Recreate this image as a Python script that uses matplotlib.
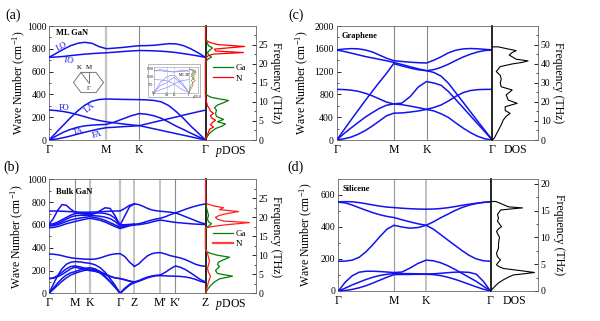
import numpy as np
import matplotlib
matplotlib.use('Agg')
import matplotlib.pyplot as plt
from matplotlib.ticker import MultipleLocator
from matplotlib.lines import Line2D
from matplotlib.patches import Rectangle

plt.rcParams['font.family'] = ['Liberation Serif', 'DejaVu Serif']
plt.rcParams['mathtext.fontset'] = 'custom'
plt.rcParams['mathtext.rm'] = 'Liberation Serif'
plt.rcParams['mathtext.it'] = 'Liberation Serif:italic'
plt.rcParams['mathtext.bf'] = 'Liberation Serif:bold'

THZ = 0.0299792458  # cm^-1 -> THz
BLUE = '#1212ee'

# hexagonal path G-M-K-G, segment lengths in units of |GM|
hex_segments = [1.0, 0.577, 1.155]
hex_divisions = [8, 4, 9]
hex_labels = ['Γ', 'M', 'K', 'Γ']

# ---- (a) monolayer GaN, cm^-1 ----
ml_lo = [725, 760, 795, 827, 848, 857, 848, 819, 801, 806, 812, 820, 827,
         828, 831, 838, 845, 843, 828, 800, 765, 725]
ml_to = [725, 728, 733, 740, 747, 753, 758, 762, 765, 770, 776, 781, 785,
         784, 782, 779, 774, 767, 758, 748, 737, 725]
ml_la = [0, 65, 130, 195, 255, 305, 340, 355, 360, 358, 356, 355, 354,
         352, 347, 334, 302, 250, 190, 122, 62, 0]
ml_fo = [263, 258, 250, 238, 222, 204, 186, 171, 160, 150, 141, 133, 126,
         112, 98, 84, 70, 56, 42, 28, 14, 0]
ml_ta = [0, 35, 68, 93, 112, 124, 130, 134, 137, 158, 185, 212, 232,
         226, 212, 190, 157, 122, 92, 60, 30, 0]
ml_fa = [0, 8, 20, 35, 52, 68, 83, 97, 108, 112, 117, 121, 126,
         141, 157, 172, 187, 202, 218, 233, 248, 262]

# partial DOS (THz, arb. units)
ml_ga_thz = [0, 1, 2, 3, 3.6, 4.2, 4.8, 5.4, 6.2, 7, 7.8, 8.5, 9.2, 9.8, 10.4,
             10.8, 11.2, 11.7, 12.2, 20.5, 21.2, 21.8, 22.4, 23, 23.6, 24.2,
             24.8, 25.4, 26, 26.5]
ml_ga_dos = [0, 2, 5, 10, 16, 20, 12, 18, 11, 10, 11, 9, 12, 18, 23,
             14, 6, 2, 0, 0, 2, 6, 3, 2, 4, 7, 3, 2, 1, 0]
ml_n_thz = [0, 1, 2, 2.8, 3.4, 4, 4.6, 5.2, 5.8, 6.4, 7, 7.6, 8.2, 9, 10, 11,
            12, 21.5, 22.2, 22.6, 23.0, 23.4, 23.9, 24.6, 25.1, 25.6, 26.0,
            26.3, 29.9]
ml_n_dos = [0, 1, 3, 4, 8, 5, 7, 10, 6, 5, 8, 5, 4, 2, 1, 0,
            0, 0, 3, 8, 38, 10, 9, 39, 12, 5, 2, 0, 0]

# inset: monolayer BN dispersion
bn_k = [0, 0.5, 1.0, 1.289, 1.577, 2.155, 2.732]
bn_bands = [
    [1370, 1380, 1330, 1320, 1300, 1340, 1370],
    [1370, 1450, 1380, 1330, 1300, 1420, 1370],
    [0, 650, 1000, 1080, 1100, 650, 0],
    [820, 800, 740, 650, 560, 750, 820],
    [0, 450, 620, 820, 960, 520, 0],
    [0, 180, 310, 420, 530, 200, 0],
]
bn_thz = [0, 8, 14, 18, 23, 27, 31, 35, 39, 42, 45]
bn_b_dos = [0, 2, 4, 3, 6, 3, 5, 2, 7, 3, 0]
bn_n_dos = [0, 1, 2, 4, 2, 5, 2, 6, 3, 6, 0]

# ---- (b) bulk GaN ----
bulk_segments_1 = [1.0, 0.577, 1.155, 0.55]   # G-M-K-G-Z
bulk_divisions_1 = [6, 3, 6, 3]
bulk_segments_2 = [1.0, 0.577, 1.155]         # Z-M'-K'-Z
bulk_divisions_2 = [6, 3, 6]
bulk_labels = ['Γ', 'M', 'K', 'Γ', 'Z', "M′", "K′", 'Z']

bk_u1 = [722, 722, 721, 720, 718, 716, 714, 712, 711, 712, 713, 715, 718, 720, 722, 722, 745, 772, 785]
bk_u2 = [605, 655, 728, 778, 772, 737, 713, 700, 692, 690, 700, 725, 750, 745, 680, 598, 680, 760, 785]
bk_u3 = [605, 610, 625, 645, 665, 685, 700, 702, 702, 700, 703, 705, 700, 688, 658, 600, 602, 604, 606]
bk_u4 = [596, 600, 612, 630, 650, 668, 680, 684, 685, 684, 680, 676, 668, 655, 630, 590, 596, 602, 605]
bk_u5 = [590, 593, 602, 615, 630, 643, 652, 660, 667, 672, 665, 655, 640, 620, 600, 578, 588, 598, 603]
bk_u6 = [575, 578, 585, 597, 610, 620, 630, 640, 650, 658, 650, 640, 625, 605, 585, 568, 580, 592, 600]
bk_l1 = [345, 343, 338, 330, 320, 312, 307, 303, 300, 298, 300, 310, 325, 338, 346, 348, 322, 272, 237]
bk_l2 = [0, 80, 155, 215, 255, 272, 278, 275, 268, 263, 250, 225, 185, 130, 70, 0, 45, 78, 100]
bk_l3 = [0, 45, 90, 130, 160, 180, 190, 205, 218, 225, 215, 190, 150, 105, 55, 0, 40, 75, 100]
bk_l4 = [0, 35, 70, 105, 135, 160, 175, 190, 202, 208, 200, 178, 142, 100, 52, 0, 38, 72, 95]
bk_l5 = [129, 135, 155, 185, 215, 235, 240, 232, 220, 211, 205, 190, 170, 150, 135, 129, 120, 108, 100]
bk_l6 = [129, 132, 145, 165, 190, 215, 230, 218, 206, 199, 192, 180, 165, 148, 135, 129, 118, 105, 95]

bk_za = [785, 778, 763, 745, 732, 724, 720, 716, 711, 705, 690, 672, 655, 637, 620, 608]
bk_zb = [605, 610, 620, 632, 643, 652, 658, 672, 690, 705, 720, 737, 752, 765, 776, 784]
bk_zc = [600, 602, 608, 615, 625, 635, 642, 636, 628, 622, 618, 614, 610, 607, 605, 603]
bk_zd = [237, 258, 295, 328, 347, 355, 357, 345, 330, 320, 310, 295, 275, 255, 242, 237]
bk_ze = [100, 112, 128, 142, 152, 158, 161, 185, 215, 240, 228, 208, 180, 150, 120, 100]
bk_zf = [93, 105, 120, 135, 146, 153, 155, 153, 151, 150, 148, 143, 135, 122, 105, 93]

bk_ga_thz = [0, 1, 2, 3, 3.8, 4.5, 5.2, 6, 7, 7.6, 8.2, 8.8, 9.5, 10, 10.5, 11,
             11.5, 17.2, 17.8, 18.3, 18.8, 19.5, 20.5, 21.5, 22.5, 23.2]
bk_ga_dos = [0, 2, 5, 9, 14, 27, 12, 10, 14, 12, 13, 18, 24, 12, 5, 1,
             0, 0, 4, 6, 3, 2, 3, 2, 1, 0]
bk_n_thz = [0, 1, 2, 3, 3.8, 4.5, 5.5, 6.5, 7.5, 8.5, 9.5, 10.5, 11.5, 17.2,
            17.6, 18.0, 18.6, 19.0, 19.5, 20.0, 20.5, 21.0, 21.5, 22.0, 22.5,
            23.0, 23.5, 24.0, 29.9]
bk_n_dos = [0, 1, 2, 3, 4, 5, 3, 2, 3, 4, 3, 2, 0, 0,
            8, 20, 44, 18, 12, 10, 14, 22, 33, 14, 18, 8, 2, 0, 0]

# ---- (c) graphene ----
gr_za = [0, 20, 50, 100, 165, 245, 335, 425, 470, 475, 490, 510, 536,
         510, 460, 395, 300, 210, 130, 65, 20, 0]
gr_ta = [0, 110, 210, 305, 400, 480, 555, 610, 632, 648, 760, 930, 1025,
         1000, 960, 850, 710, 568, 425, 283, 142, 0]
gr_zo = [889, 885, 875, 855, 820, 775, 720, 665, 632, 620, 595, 567, 538,
         570, 615, 685, 765, 830, 868, 883, 888, 889]
gr_la = [0, 175, 350, 520, 690, 855, 1015, 1170, 1340, 1300, 1262, 1232, 1216,
         1185, 1120, 995, 830, 665, 497, 330, 165, 0]
gr_lo = [1578, 1555, 1525, 1495, 1465, 1440, 1415, 1390, 1362, 1325, 1285, 1248, 1216,
         1235, 1275, 1330, 1395, 1455, 1505, 1545, 1570, 1578]
gr_to = [1582, 1595, 1603, 1600, 1580, 1545, 1490, 1435, 1392, 1378, 1365, 1356, 1351,
         1400, 1460, 1530, 1575, 1598, 1605, 1600, 1590, 1582]

gr_thz = [0, 1, 3, 5, 8, 10.5, 12.5, 14, 15.5, 17.5, 19.3, 21, 23.7, 25, 26.3, 28,
          30, 32, 34, 36, 38.6, 40, 40.8, 41.6, 42.5, 44.7, 46, 47, 48.3, 49, 49]
gr_dos = [0, 2, 4, 6, 9, 11, 14, 18, 13, 13, 25, 16, 14, 17, 20, 9,
          8, 9, 8, 4, 8, 20, 30, 36, 24, 17, 20, 24, 12, 6, 0]

# ---- (d) silicene ----
si_b1 = [555, 556, 555, 550, 543, 535, 528, 522, 519, 515, 512, 510, 509,
         510, 513, 518, 525, 533, 540, 546, 551, 555]
si_b2 = [553, 548, 535, 518, 502, 487, 474, 464, 457, 443, 430, 418, 409,
         385, 352, 318, 285, 252, 222, 200, 188, 185]
si_b3 = [185, 186, 192, 210, 245, 290, 340, 385, 409, 398, 391, 395, 409,
         430, 455, 477, 500, 519, 534, 544, 552, 554]
si_b4 = [0, 55, 95, 117, 123, 123, 121, 118, 115, 118, 143, 172, 192,
         188, 176, 158, 135, 110, 85, 60, 30, 0]
si_b5 = [0, 18, 38, 55, 72, 86, 97, 104, 108, 108, 108, 107, 106,
         107, 110, 114, 117, 118, 116, 105, 60, 0]
si_b6 = [0, 3, 10, 20, 33, 50, 68, 86, 102, 103, 103, 104, 104,
         102, 96, 86, 73, 58, 42, 26, 11, 0]

si_thz = [0, 0.8, 1.5, 2.1, 2.6, 3.0, 3.2, 3.45, 3.8, 4.2, 4.6, 4.9, 5.4, 5.8,
          6.4, 7.0, 8.0, 8.9, 10.0, 11.1, 11.6, 12.0, 12.5, 13.0, 13.6, 14.3,
          14.8, 15.1, 15.3, 15.5, 15.7, 16.1, 16.5, 16.7, 16.7]
si_dos = [0, 4, 8, 13, 18, 23, 33, 44, 30, 13, 8, 6, 8, 10,
          7, 6, 8, 8, 9, 6, 8, 11, 9, 7, 8, 7,
          9, 10, 20, 32, 18, 13, 8, 5, 0]


def kpath(segments, divisions, start=0.0):
    nodes = [start]
    k = [start]
    for length, n in zip(segments, divisions):
        a = nodes[-1]
        k.extend(a + length * (i + 1) / n for i in range(n))
        nodes.append(a + length)
    return np.array(k), nodes


W, H = 600, 321
fig = plt.figure(figsize=(W / 100, H / 100), dpi=100)


def box(x0, x1, top, bottom):
    return [x0 / W, 1 - bottom / H, (x1 - x0) / W, (bottom - top) / H]


def panel(band_box, dos_box, nodes, labels, ymax, step, thz_step, dos_max,
          dos_label, guides, lab_left, lab_right):
    ax = fig.add_axes(band_box)
    dx = fig.add_axes(dos_box)
    ax.set_xlim(nodes[0], nodes[-1])
    ax.set_ylim(0, ymax)
    ax.set_xticks(nodes)
    ax.set_xticklabels(labels)
    ax.yaxis.set_major_locator(MultipleLocator(step))
    ax.yaxis.set_minor_locator(MultipleLocator(step / 2))
    ax.tick_params(axis='x', length=0, pad=3, labelsize=8.5)
    ax.tick_params(axis='y', which='major', direction='in', length=3,
                   width=0.6, labelsize=7, pad=2)
    ax.tick_params(axis='y', which='minor', direction='in', length=1.6, width=0.5)
    for s in ('left', 'top', 'bottom'):
        ax.spines[s].set_color('#666666')
        ax.spines[s].set_linewidth(0.6)
    ax.spines['right'].set_visible(False)
    for x, (c, lw) in zip(nodes[1:-1], guides):
        ax.axvline(x, color=c, lw=lw, zorder=1)
    ax.set_ylabel('Wave Number (cm$^{-1}$)', fontsize=8.5)
    ax.yaxis.set_label_coords(lab_left, 0.5)

    dx.set_xlim(0, dos_max)
    dx.set_ylim(0, ymax * THZ)
    dx.set_xticks([dos_max / 2])
    dx.set_xticklabels([dos_label])
    dx.tick_params(axis='x', length=0, pad=3, labelsize=8.5)
    dx.yaxis.tick_right()
    dx.yaxis.set_major_locator(MultipleLocator(thz_step))
    dx.yaxis.set_minor_locator(MultipleLocator(thz_step / 2))
    dx.tick_params(axis='y', which='major', direction='in', length=3,
                   width=0.6, labelsize=7, pad=2)
    dx.tick_params(axis='y', which='minor', direction='in', length=1.6, width=0.5)
    for s in ('right', 'top', 'bottom'):
        dx.spines[s].set_color('#666666')
        dx.spines[s].set_linewidth(0.6)
    dx.spines['left'].set_color('black')
    dx.spines['left'].set_linewidth(1.2)
    dx.yaxis.set_label_position('right')
    dx.set_ylabel('Frequency (THz)', fontsize=8.5, rotation=270, va='bottom')
    dx.yaxis.set_label_coords(lab_right, 0.5)
    return ax, dx


def draw_bands(ax, k, bands):
    for b in bands:
        ax.plot(k, b, color=BLUE, lw=1.1, zorder=3, solid_joinstyle='round')


LIGHT = ('#c4c4c4', 1.6)
DARK = ('#8a8a8a', 0.8)
MID = ('#b4b4b4', 1.1)

# (a) monolayer GaN
k_hex, n_hex = kpath(hex_segments, hex_divisions)
ax_a, dx_a = panel(box(49, 205.5, 26, 140), box(205.5, 255.5, 26, 140),
                   n_hex, hex_labels, 1000, 200, 5, 50, '$p$DOS',
                   [LIGHT, DARK], -0.137, 1.28)
draw_bands(ax_a, k_hex, [ml_lo, ml_to, ml_la, ml_fo, ml_ta, ml_fa])
for txt, kx, w, rot in [('LO', 0.22, 818, 28), ('TO', 0.34, 697, -8),
                        ('FO', 0.26, 285, 0), ('LA', 0.71, 285, 40),
                        ('TA', 0.52, 70, 15), ('FA', 0.84, 42, 15)]:
    ax_a.text(kx, w, txt, color=BLUE, fontsize=6, rotation=rot,
              ha='center', va='center')
ax_a.text(0.045, 0.94, 'ML GaN', transform=ax_a.transAxes, fontsize=6,
          fontweight='bold', va='center')
dx_a.plot(ml_ga_dos, ml_ga_thz, color='#008000', lw=0.9, zorder=3, clip_on=False)
dx_a.plot(ml_n_dos, ml_n_thz, color='#ff0000', lw=0.9, zorder=3, clip_on=False)
handles = [Line2D([], [], color='#008000', lw=0.9), Line2D([], [], color='#ff0000', lw=0.9)]
dx_a.legend(handles, ['Ga', 'N'], loc='upper left', bbox_to_anchor=(0.15, 0.67),
            frameon=False, fontsize=6.5, handlelength=2.2, handletextpad=0.3,
            labelspacing=0.25, borderaxespad=0, borderpad=0)

# Brillouin zone sketch
bz = fig.add_axes(box(69.75, 107.25, 64.5, 100.5))
ang = np.deg2rad(np.arange(7) * 60)
bz.plot(np.cos(ang), 0.86 * np.sin(ang), color='#777777', lw=0.7)
bz.plot([0, 0], [0, 0.86 * np.sin(np.pi / 3)], color='#777777', lw=0.7)
bz.plot([0, -0.5], [0, 0.86 * np.sin(np.pi / 3)], color='#777777', lw=0.7)
bz.text(-0.6, 1.13, 'K', fontsize=5, ha='center', va='center')
bz.text(0.02, 1.13, 'M', fontsize=5, ha='center', va='center')
bz.text(0.0, -0.42, 'Γ', fontsize=4.5, ha='center', va='center')
bz.set_xlim(-1.25, 1.25)
bz.set_ylim(-1.33, 1.33)
bz.axis('off')

# inset with the BN dispersion
fig.patches.append(Rectangle((147.7 / W, 1 - 97.3 / H), 52.8 / W, 33.3 / H,
                             transform=fig.transFigure, fill=False,
                             edgecolor='#9a9a9a', lw=0.5))
ins = fig.add_axes(box(154, 189, 66.5, 92.5))
ins_d = fig.add_axes(box(189, 197.5, 66.5, 92.5))
for b in bn_bands:
    ins.plot(bn_k, b, color='#8c8cff', lw=0.5)
ins.set_xlim(0, 2.732)
ins.set_ylim(0, 1650)
ins.set_xticks([0, 1.0, 1.577, 2.732])
ins.set_xticklabels(hex_labels)
ins.set_yticks([0, 500, 1000, 1500])
ins.tick_params(labelsize=2.5, length=1, width=0.3, pad=0.5, direction='in')
for a in (ins, ins_d):
    for s in a.spines.values():
        s.set_linewidth(0.4)
        s.set_color('#9a9a9a')
for x in (1.0, 1.577):
    ins.axvline(x, color='#bbbbbb', lw=0.4)
ins.text(0.72, 0.62, 'ML BN', transform=ins.transAxes, fontsize=2.8)
ins_d.plot(bn_b_dos, bn_thz, color='#dd3333', lw=0.4)
ins_d.plot(bn_n_dos, bn_thz, color='#33aa33', lw=0.4)
ins_d.set_ylim(0, 1650 * THZ)
ins_d.set_xlim(0, 8)
ins_d.set_xticks([])
ins_d.set_yticks([])
ins_d.text(0.35, -0.03, '$p$DOS', transform=ins_d.transAxes, fontsize=2.2,
           ha='left', va='top')

# (b) bulk GaN
k_b1, n_b1 = kpath(bulk_segments_1, bulk_divisions_1)
k_b2, n_b2 = kpath(bulk_segments_2, bulk_divisions_2, start=n_b1[-1])
nodes_b = n_b1 + n_b2[1:]
ax_b, dx_b = panel(box(49, 205.5, 179.3, 293.3), box(205.5, 255.5, 179.3, 293.3),
                   nodes_b, bulk_labels, 1000, 200, 5, 50, '$p$DOS',
                   [DARK, LIGHT, LIGHT, MID, MID, DARK], -0.145, 1.28)
draw_bands(ax_b, k_b1, [bk_u1, bk_u2, bk_u3, bk_u4, bk_u5, bk_u6,
                        bk_l1, bk_l2, bk_l3, bk_l4, bk_l5, bk_l6])
draw_bands(ax_b, k_b2, [bk_za, bk_zb, bk_zc, bk_zd, bk_ze, bk_zf])
ax_b.text(0.045, 0.89, 'Bulk GaN', transform=ax_b.transAxes, fontsize=6,
          fontweight='bold', va='center')
dx_b.plot(bk_ga_dos, bk_ga_thz, color='#008000', lw=0.9, zorder=3, clip_on=False)
dx_b.plot(bk_n_dos, bk_n_thz, color='#ff2020', lw=0.9, zorder=3, clip_on=False)
handles = [Line2D([], [], color='#008000', lw=0.9), Line2D([], [], color='#ff4040', lw=1.6)]
dx_b.legend(handles, ['Ga', 'N'], loc='upper left', bbox_to_anchor=(0.15, 0.56),
            frameon=False, fontsize=6.5, handlelength=2.2, handletextpad=0.3,
            labelspacing=0.25, borderaxespad=0, borderpad=0)

# (c) graphene
ax_c, dx_c = panel(box(336.7, 492.3, 26, 140), box(492.3, 538, 26, 140),
                   n_hex, hex_labels, 2000, 400, 10, 46, 'DOS',
                   [DARK, DARK], -0.168, 1.317)
draw_bands(ax_c, k_hex, [gr_za, gr_ta, gr_zo, gr_la, gr_lo, gr_to])
ax_c.text(0.032, 0.915, 'Graphene', transform=ax_c.transAxes, fontsize=6,
          fontweight='bold', va='center')
dx_c.plot(gr_dos, gr_thz, color='black', lw=0.8, zorder=3, clip_on=False)

# (d) silicene
k_si, n_si = kpath(hex_segments, hex_divisions)
ax_d, dx_d = panel(box(338.3, 490.5, 178.5, 291), box(490.5, 537.5, 178.5, 291),
                   n_si, hex_labels, 700, 200, 5, 47, 'DOS',
                   [('#a0a0a0', 0.9), ('#b8b8b8', 1.2)], -0.15, 1.34)
draw_bands(ax_d, k_si, [si_b1, si_b2, si_b3, si_b4, si_b5, si_b6])
ax_d.text(0.03, 0.904, 'Silicene', transform=ax_d.transAxes, fontsize=6,
          fontweight='bold', va='center')
dx_d.plot(si_dos, si_thz, color='black', lw=0.8, zorder=3, clip_on=False)

for lab, x, y in [('(a)', 5, 15), ('(b)', 3, 167), ('(c)', 288, 15), ('(d)', 287, 167)]:
    fig.text(x / W, 1 - y / H, lab, fontsize=10, va='center', ha='left')

fig.savefig('out.png', dpi=100)
